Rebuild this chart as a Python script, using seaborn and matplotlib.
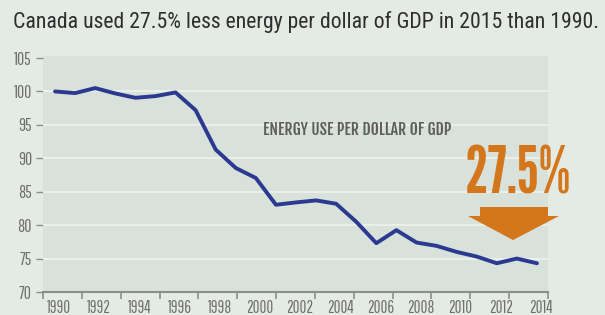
import matplotlib
matplotlib.use("Agg")
import matplotlib.pyplot as plt
import seaborn as sns
import numpy as np
import pandas as pd
from matplotlib.patches import Polygon

years = list(range(1990, 2015))
energy_index = [100.0, 99.75, 100.5, 99.7, 99.05, 99.3, 99.85, 97.2, 91.3, 88.55,
                87.05, 83.05, 83.4, 83.7, 83.2, 80.5, 77.3, 79.25, 77.4, 76.9,
                76.0, 75.3, 74.3, 75.0, 74.3]
year_labels = [str(y) for y in range(1990, 2015, 2)]
y_ticks = [70, 75, 80, 85, 90, 95, 100, 105]

title = "Canada used 27.5% less energy per dollar of GDP in 2015 than 1990."
series_label = "ENERGY USE PER DOLLAR OF GDP"
big_label = "27.5%"

df = pd.DataFrame({"year": years, "value": energy_index})

sns.set_theme(style="white")
plt.rcParams["font.family"] = ["Roboto Condensed", "DejaVu Sans"]
TICKF = ["Pathway Gothic One", "DejaVu Sans"]
LABF = ["Fjalla One", "Oswald", "DejaVu Sans"]
BIGF = ["League Gothic", "Oswald", "DejaVu Sans"]

fig_bg = "#e4ebe5"
ax_bg = "#d8e1da"
fig = plt.figure(figsize=(6.05, 3.15), dpi=100, facecolor=fig_bg)
ax = fig.add_axes([43/605, 23/315, 505/605, 236/315])
ax.set_facecolor(ax_bg)

for yv in y_ticks[1:-1]:
    ax.axhline(yv, color="#eef2ee", lw=1.2, zorder=1)

sns.lineplot(data=df, x="year", y="value", ax=ax, color="#2b3990", lw=2.8,
             zorder=3, legend=False)

x0, x1 = 1989.4, 2014.55
ax.set_xlim(x0, x1)
ax.set_ylim(70, 105.3)

for s in ["top", "right", "left"]:
    ax.spines[s].set_visible(False)
ax.spines["bottom"].set_color("#8a8f8b")
ax.spines["bottom"].set_linewidth(1.5)

ax.set_yticks(y_ticks)
ax.set_yticklabels([str(v) for v in y_ticks], family=TICKF)
ax.tick_params(axis="y", length=5, width=1, color="#8a8f8b", pad=3,
               labelsize=12.5, labelcolor="#707070", left=True)

label_pos = [int(l) + 0.2 for l in year_labels]
ax.set_xticks(label_pos)
ax.set_xticklabels(year_labels, family=TICKF)
ax.tick_params(axis="x", length=0, pad=6, labelsize=12, labelcolor="#707070", bottom=True)
ax.set_xticks(np.linspace(x0, x1, 14), minor=True)
ax.tick_params(axis="x", which="minor", length=5, width=1.2, color="#8a8f8b", bottom=True)
ax.set_xlabel("")
ax.set_ylabel("")

fig.text(13/605, 1 - 22/315, title, ha="left", va="center", fontsize=15.7,
         color="#2e2e2e")

ax.text(263/605, 1 - 130/315, series_label, transform=fig.transFigure, ha="left", va="center",
        fontsize=11.3, color="#5e5e5e", family=LABF)

fig.text(518/605, 1 - 175/315, big_label, ha="center", va="center", fontsize=46,
         color="#d4761c", family=BIGF)

orange = "#d4761c"
pts = [(480, 207), (548, 207), (548, 216), (559, 216), (513, 240), (468, 216), (480, 216)]
arrow = Polygon([(x/605, 1 - y/315) for x, y in pts], closed=True,
                transform=fig.transFigure, facecolor=orange, edgecolor="none", zorder=5)
fig.patches.append(arrow)

fig.savefig("out.png", dpi=100, facecolor=fig_bg)
